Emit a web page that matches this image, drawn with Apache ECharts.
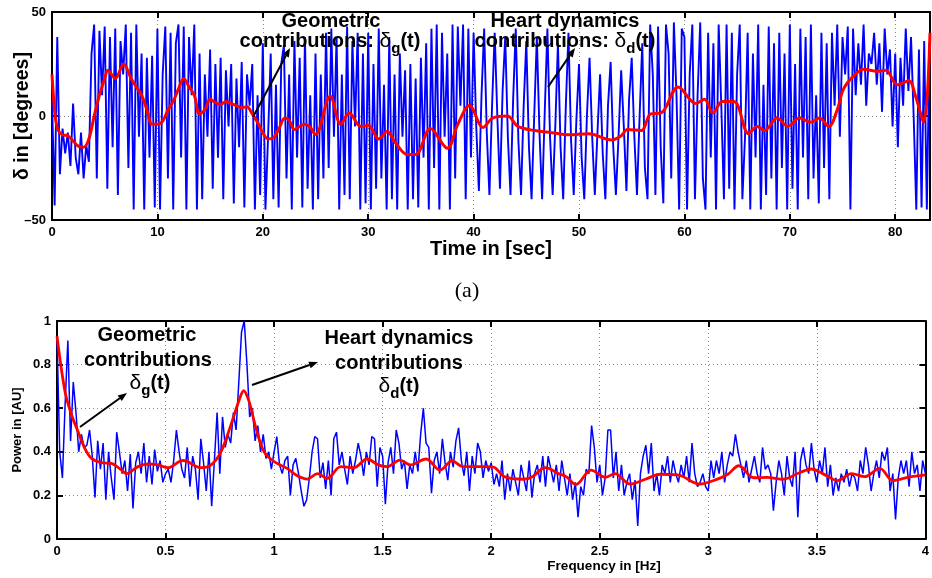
<!DOCTYPE html>
<html>
<head>
<meta charset="utf-8">
<script src="https://cdn.jsdelivr.net/npm/echarts@6/dist/echarts.min.js"></script>
<style>
html, body { margin: 0; background: #fff; }
#main { width: 932px; height: 578px; }
</style>
</head>
<body>
<div id="main"></div>
<script>
// (a) 时域信号：每 0.25 s 一个采样，单位：度
var dt = 0.25;
var deltaRaw = [
    8, -43, 38, -28, -6, -18, -8, -24,
    6, -20, -28, -8, -30, -14, -22, 30,
    44, -30, 41, 10, 43, -35, 38, -15,
    42, -38, 36, 20, 44, -25, 40, -45,
    44, -10, 30, -45, 28, -20, 29, -44,
    42, -45, 20, 43, -30, 40, -45, 35,
    44, -20, 43, -45, 38, 10, 44, -45,
    30, -40, 20, -10, 32, -35, 25, -20,
    28, -40, 22, -5, 25, -42, 18, -15,
    26, -44, 20, 5, 25, -45, 10, -38,
    35, -45, -10, 30, -40, 15, -44, 25,
    34, -30, 20, -45, 36, -20, 28, -44,
    38, -35, 10, -45, 30, -40, 20, -30,
    40, -25, 42, -10, 38, -45, 20, -38,
    43, -40, 36, -5, 40, -45, 30, -42,
    40, -45, 25, -35, 42, -30, 15, -45,
    38, -40, 20, -45, 30, -10, 22, -45,
    25, -40, 18, -44, 28, -20, 35, -45,
    42, -25, 44, -45, 40, -10, 30, -45,
    44, -30, 43, 5, 44, -40, 42, -20,
    40, -5, -36, 10, 42, -8, -38, 5,
    40, 0, -35, 12, 38, -10, -38, 8,
    42, -12, -38, 5, 36, -15, -40, 0,
    38, -8, -40, 2, 42, -10, -38, -5,
    35, -15, -40, 5, 40, -12, -38, -2,
    25, -20, -40, 0, 28, -10, -38, -8,
    20, -18, -40, 5, 26, -15, -38, -10,
    22, -5, -36, 8, 28, -10, -38, 0,
    35, -25, -40, 44, 20, -38, 43, -15,
    -42, 44, 30, -30, 45, 10, -45, 42,
    38, -45, 20, 44, -40, 10, 45, -30,
    -45, 40, -20, 35, -45, 44, 5, -40,
    44, -35, 40, -45, 20, 44, -40, -10,
    40, -45, 30, -20, 44, -45, 15, -38,
    43, -30, 35, -45, 40, -25, 30, -45,
    44, -35, 25, -45, 42, -20, 38, -40,
    44, -30, 10, -42, 40, -25, 35, -40,
    40, 5, 44, -10, 38, 20, 43, -45,
    42, 10, 35, 15, 44, 5, 30, 25,
    40, 15, 35, 2, 42, 20, 32, -5,
    30, -15, 28, 5, 42, 12, 38, 0,
    -45, 32, -44, 36, -45, 35
];
// 平滑后的红线（时间，角度）
var smoothT = [0, 0.3, 0.6, 1, 1.5, 2, 2.5, 3, 3.5, 4, 4.5, 5, 5.3, 6, 6.8, 7.5, 8, 8.5, 9, 9.5,
    10, 10.5, 11, 11.5, 12, 12.5, 13, 13.5, 14, 14.5, 15, 15.5, 16, 16.5, 17, 17.5, 18, 18.5, 19, 19.5,
    20, 20.5, 21, 21.5, 22.1, 22.5, 23, 23.5, 24, 24.5, 25, 26.4, 27.4, 28.2, 29.3,
    30, 31, 31.8, 32.6, 33.7, 34.5, 35.9, 37.5, 38.5, 39.6, 40.9, 41.8, 43.2, 44.2, 45.8,
    47.4, 49, 50.9, 53.1, 54, 54.6, 55.9, 56.8, 57.8, 59.4, 61.1, 61.9, 62.7, 63.6, 64.7,
    66.1, 66.9, 67.6, 68.8, 69.8, 70.9, 72, 72.8, 73.7, 74.5, 75.1, 76.1, 77, 78.3, 79.1,
    80.2, 81.3, 81.9, 82.7, 83.3];
var smoothDeg = [20, 0, -7, -9, -9.5, -12, -14.5, -15, -11, 0, 10, 18, 22, 18, 25, 18, 14, 10, 3, -4,
    -4, -2.5, 3, 7, 13, 18, 14, 10, 1, 3, 8, 6.5, 5.5, 7, 6, 5, 4, 4.5, 1, -3,
    -8, -11, -10.5, -6.5, -1, -2, -6.5, -5, -4, -5.5, -9, 9.5, -4, 1.5, -5,
    -4.5, -11, -7.5, -13, -18.5, -18.5, -6, -15.5, -4, 5, -5.5, -1, 0, -5, -7,
    -8, -9, -8.5, -11.5, -9.5, -6.5, -7, 1, 1.5, 14, 6, 8, 1.5, 7, 7,
    -8.5, -5, -7, -1, -5, -1, -3, -1, -5, 3, 13, 19.5, 22.5, 21.5, 22,
    15, 17, 10, -3, 40];

// (b) 功率谱：每 0.0125 Hz 一个点
var df = 0.0125;
var powerRaw = [
    0.93, 0.40, 0.28, 0.62, 0.91, 0.45, 0.72, 0.58,
    0.40, 0.48, 0.42, 0.43, 0.50, 0.38, 0.19, 0.45,
    0.32, 0.44, 0.18, 0.40, 0.28, 0.18, 0.49, 0.40,
    0.30, 0.36, 0.22, 0.39, 0.14, 0.35, 0.40, 0.30,
    0.44, 0.26, 0.38, 0.25, 0.41, 0.31, 0.36, 0.26,
    0.30, 0.32, 0.26, 0.36, 0.50, 0.40, 0.32, 0.28,
    0.42, 0.24, 0.38, 0.32, 0.18, 0.46, 0.35, 0.22,
    0.40, 0.15, 0.36, 0.58, 0.30, 0.56, 0.42, 0.48,
    0.44, 0.58, 0.50, 0.72, 0.95, 1.00, 0.80, 0.56,
    0.60, 0.45, 0.52, 0.40, 0.48, 0.37, 0.40, 0.32,
    0.40, 0.47, 0.34, 0.30, 0.36, 0.38, 0.20, 0.34,
    0.37, 0.30, 0.22, 0.15, 0.18, 0.28, 0.40, 0.47,
    0.46, 0.28, 0.35, 0.23, 0.36, 0.20, 0.46, 0.49,
    0.34, 0.40, 0.32, 0.25, 0.38, 0.30, 0.36, 0.44,
    0.38, 0.29, 0.40, 0.34, 0.47, 0.46, 0.24, 0.42,
    0.38, 0.16, 0.35, 0.42, 0.30, 0.50, 0.44, 0.32,
    0.36, 0.23, 0.34, 0.30, 0.40, 0.31, 0.48, 0.60,
    0.44, 0.42, 0.21, 0.36, 0.40, 0.30, 0.46, 0.35,
    0.27, 0.40, 0.33, 0.45, 0.51, 0.36, 0.29, 0.40,
    0.22, 0.38, 0.30, 0.44, 0.40, 0.28, 0.36, 0.31,
    0.35, 0.25, 0.30, 0.24, 0.36, 0.18, 0.30, 0.22,
    0.32, 0.26, 0.20, 0.34, 0.28, 0.22, 0.36, 0.19,
    0.30, 0.34, 0.26, 0.38, 0.24, 0.38, 0.32, 0.26,
    0.34, 0.22, 0.36, 0.28, 0.20, 0.30, 0.18, 0.26,
    0.10, 0.24, 0.20, 0.32, 0.30, 0.52, 0.42, 0.26,
    0.34, 0.20, 0.28, 0.50, 0.50, 0.28, 0.40, 0.22,
    0.34, 0.20, 0.26, 0.30, 0.18, 0.27, 0.06, 0.30,
    0.38, 0.43, 0.30, 0.44, 0.22, 0.30, 0.20, 0.34,
    0.30, 0.38, 0.26, 0.36, 0.30, 0.26, 0.34, 0.28,
    0.38, 0.26, 0.44, 0.30, 0.24, 0.26, 0.30, 0.24,
    0.22, 0.36, 0.28, 0.36, 0.30, 0.40, 0.26, 0.34,
    0.40, 0.38, 0.48, 0.40, 0.34, 0.28, 0.36, 0.26,
    0.32, 0.38, 0.30, 0.26, 0.42, 0.32, 0.34, 0.30,
    0.13, 0.26, 0.36, 0.30, 0.20, 0.38, 0.28, 0.24,
    0.40, 0.10, 0.36, 0.42, 0.34, 0.30, 0.44, 0.32,
    0.26, 0.36, 0.30, 0.42, 0.24, 0.34, 0.20, 0.28,
    0.22, 0.30, 0.26, 0.32, 0.24, 0.30, 0.28, 0.22,
    0.36, 0.30, 0.42, 0.34, 0.22, 0.30, 0.36, 0.28,
    0.40, 0.36, 0.42, 0.22, 0.30, 0.09, 0.28, 0.36,
    0.30, 0.36, 0.24, 0.40, 0.30, 0.34, 0.22, 0.36,
    0.30
];
var smoothF = [0, .037, .067, .098, .128, .159, .205, .25, .297, .32, .373, .42, .465, .51, .58,
    .664, .71, .755, .80, .84, .86, .885, .916, .954, 1.0, 1.06, 1.107, 1.153, 1.2, 1.245,
    1.307, 1.367, 1.428, 1.48, 1.52, 1.58, 1.627, 1.70, 1.764, 1.82, 1.87, 1.917, 1.963, 2.01, 2.06,
    2.15, 2.19, 2.25, 2.31, 2.345, 2.39, 2.46, 2.527, 2.57, 2.64, 2.71, 2.78, 2.86, 2.96, 3.03,
    3.09, 3.14, 3.21, 3.27, 3.345, 3.42, 3.475, 3.527, 3.595, 3.66, 3.72, 3.79, 3.85, 3.92, 4.0];
var smoothP = [.93, .676, .57, .49, .416, .37, .35, .347, .316, .30, .332, .344, .34, .327, .36,
    .327, .34, .40, .52, .64, .68, .63, .51, .40, .355, .324, .29, .275, .30, .278,
    .332, .327, .367, .34, .332, .362, .34, .367, .316, .358, .332, .332, .332, .33, .286,
    .274, .286, .327, .30, .286, .25, .316, .283, .30, .252, .274, .297, .294, .252, .27,
    .297, .336, .281, .283, .274, .304, .321, .30, .268, .30, .286, .324, .268, .283, .294];

// 刻度：min, max, interval, 是否显示最大值标签
var tTicks = [0, 83.3, 10, false];
var dTicks = [-50, 50, 50, true];
var fTicks = [0, 4, 0.5, true];
var pTicks = [0, 1, 0.2, true];

var FONT = '"Liberation Sans", Arial, sans-serif';

function pairs(xs, ys) {
    return xs.map(function (x, i) { return [x, ys[i]]; });
}
function stepped(ys, step) {
    return ys.map(function (y, i) { return [i * step, y]; });
}

// 坐标轴：刻度朝内，四边都有，边框用轴线画
function axis(grid, pos, t, withLabel, fmt) {
    return {
        type: 'value', gridIndex: grid, position: pos,
        min: t[0], max: t[1], interval: t[2],
        axisLine: { show: true, onZero: false, lineStyle: { color: '#000', width: 2 } },
        axisTick: { show: true, inside: true, length: 6, lineStyle: { color: '#000', width: 2 } },
        axisLabel: {
            show: withLabel, color: '#000', fontWeight: 'bold', fontSize: 13,
            fontFamily: FONT, margin: 6, showMaxLabel: t[3], showMinLabel: true,
            formatter: fmt
        },
        splitLine: {
            show: withLabel, showMinLine: false, showMaxLine: false,
            lineStyle: { color: '#8a8a8a', type: [1, 3], width: 1 }
        }
    };
}
function minusFmt(v) {
    return v < 0 ? '\u2013' + (-v) : String(v);
}

// 测量文字宽度，用来拼下标
var ctx = document.createElement('canvas').getContext('2d');
function textW(font, s) {
    ctx.font = font;
    return ctx.measureText(s).width;
}
var graphics = [];
function label(x, y, s, size, weight, family, rot) {
    graphics.push({
        type: 'text', x: x, y: y, rotation: rot || 0, z: 100,
        style: {
            text: s, fill: '#000',
            font: (weight || 'bold') + ' ' + size + 'px ' + (family || FONT),
            textAlign: 'center', textVerticalAlign: 'middle',
            align: 'center', verticalAlign: 'middle'
        }
    });
}
// parts: [文字, 字号, 粗细, 垂直偏移]
function richLine(cx, cy, parts) {
    var total = 0;
    var ws = parts.map(function (p) {
        var w = textW(p[2] + ' ' + p[1] + 'px ' + FONT, p[0]);
        total += w;
        return w;
    });
    var x = cx - total / 2;
    parts.forEach(function (p, i) {
        graphics.push({
            type: 'text', x: x, y: cy + p[3], z: 100,
            style: {
                text: p[0], fill: '#000',
                font: p[2] + ' ' + p[1] + 'px ' + FONT,
                textAlign: 'left', textVerticalAlign: 'middle',
                align: 'left', verticalAlign: 'middle'
            }
        });
        x += ws[i];
    });
}
function arrow(x1, y1, x2, y2) {
    var dx = x2 - x1, dy = y2 - y1, len = Math.sqrt(dx * dx + dy * dy);
    var ux = dx / len, uy = dy / len, nx = -uy, ny = ux;
    var hl = 9, hw = 3.5;
    var bx = x2 - ux * hl, by = y2 - uy * hl;
    graphics.push({
        type: 'line', z: 100,
        shape: { x1: x1, y1: y1, x2: bx, y2: by },
        style: { stroke: '#000', lineWidth: 2 }
    });
    graphics.push({
        type: 'polygon', z: 100,
        shape: { points: [[x2, y2], [bx + nx * hw, by + ny * hw], [bx - nx * hw, by - ny * hw]] },
        style: { fill: '#000' }
    });
}

// 轴标题
label(491, 249, 'Time in [sec]', 20);
label(23, 116, '\u03b4 in [degrees]', 19.5, 'bold', FONT, Math.PI / 2);
label(467, 291, '(a)', 22, 'normal', '"Liberation Serif", "DejaVu Serif", serif');
label(17, 430, 'Power in [AU]', 13, 'bold', FONT, Math.PI / 2);
label(604, 566, 'Frequency in [Hz]', 13.5);

// 注释
richLine(331, 21, [['Geometric', 20, 'bold', 0]]);
richLine(330, 41, [['contributions: ', 20, 'bold', 0], ['\u03b4', 21, 'normal', 0], ['g', 15, 'bold', 8], ['(t)', 20, 'bold', 0]]);
richLine(565, 21, [['Heart dynamics', 20, 'bold', 0]]);
richLine(565, 41, [['contributions: ', 20, 'bold', 0], ['\u03b4', 21, 'normal', 0], ['d', 15, 'bold', 8], ['(t)', 20, 'bold', 0]]);
arrow(253, 117, 290, 48);
arrow(548, 87, 575, 48);

richLine(147, 335, [['Geometric', 20, 'bold', 0]]);
richLine(148, 360, [['contributions', 20, 'bold', 0]]);
richLine(150, 383, [['\u03b4', 21, 'normal', 0], ['g', 15, 'bold', 8], ['(t)', 20, 'bold', 0]]);
richLine(399, 338, [['Heart dynamics', 20, 'bold', 0]]);
richLine(399, 363, [['contributions', 20, 'bold', 0]]);
richLine(399, 386, [['\u03b4', 21, 'normal', 0], ['d', 15, 'bold', 8], ['(t)', 20, 'bold', 0]]);
arrow(80, 427, 127, 393);
arrow(252, 385, 318, 362);

var myChart = echarts.init(document.getElementById('main'));
var option = {
    animation: false,
    backgroundColor: '#fff',
    grid: [
        { left: 52, top: 12, width: 878, height: 208 },
        { left: 57, top: 321, width: 873, height: 218 }
    ],
    xAxis: [
        axis(0, 'bottom', tTicks, true),
        axis(0, 'top', tTicks, false),
        axis(1, 'bottom', fTicks, true),
        axis(1, 'top', fTicks, false)
    ],
    yAxis: [
        axis(0, 'left', dTicks, true, minusFmt),
        axis(0, 'right', dTicks, false),
        axis(1, 'left', pTicks, true),
        axis(1, 'right', pTicks, false)
    ],
    series: [
        {
            type: 'line', xAxisIndex: 0, yAxisIndex: 0, data: stepped(deltaRaw, dt),
            symbol: 'none', lineStyle: { color: '#0000ff', width: 1.9 }, z: 2
        },
        {
            type: 'line', xAxisIndex: 0, yAxisIndex: 0, data: pairs(smoothT, smoothDeg),
            symbol: 'none', smooth: 0.35, lineStyle: { color: '#ff0000', width: 3 }, z: 3
        },
        {
            type: 'line', xAxisIndex: 2, yAxisIndex: 2, data: stepped(powerRaw, df),
            symbol: 'none', lineStyle: { color: '#0000ff', width: 1.5 }, z: 2
        },
        {
            type: 'line', xAxisIndex: 2, yAxisIndex: 2, data: pairs(smoothF, smoothP),
            symbol: 'none', smooth: 0.35, lineStyle: { color: '#ff0000', width: 2.8 }, z: 3
        }
    ],
    graphic: { elements: graphics }
};
myChart.setOption(option);
</script>
</body>
</html>
